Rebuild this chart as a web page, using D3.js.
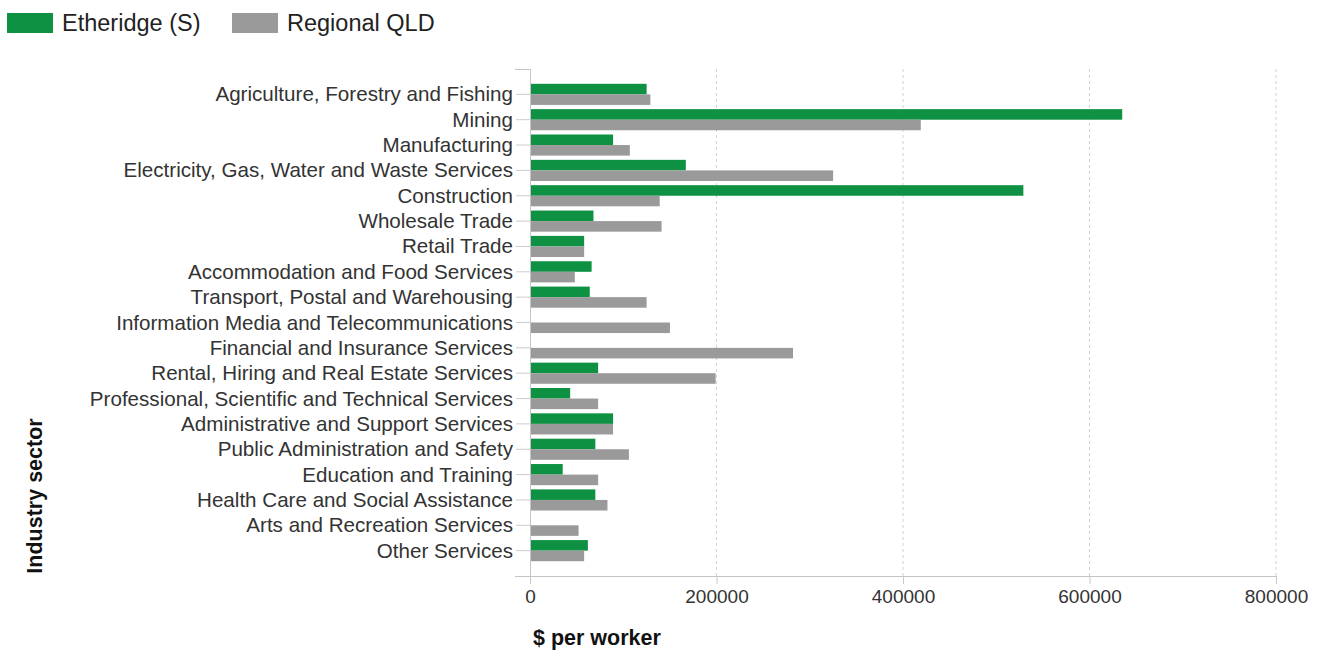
<!DOCTYPE html>
<html>
<head>
<meta charset="utf-8">
<script src="https://cdn.jsdelivr.net/npm/d3@7"></script>
<style>
  html, body { margin: 0; padding: 0; background: #ffffff; }
  svg { display: block; font-family: "Liberation Sans", Arial, sans-serif; }
</style>
</head>
<body>
<script>
// Gross output per worker by industry sector
const sectors = [
  "Agriculture, Forestry and Fishing",
  "Mining",
  "Manufacturing",
  "Electricity, Gas, Water and Waste Services",
  "Construction",
  "Wholesale Trade",
  "Retail Trade",
  "Accommodation and Food Services",
  "Transport, Postal and Warehousing",
  "Information Media and Telecommunications",
  "Financial and Insurance Services",
  "Rental, Hiring and Real Estate Services",
  "Professional, Scientific and Technical Services",
  "Administrative and Support Services",
  "Public Administration and Safety",
  "Education and Training",
  "Health Care and Social Assistance",
  "Arts and Recreation Services",
  "Other Services"
];
const etheridge = [124000, 634000, 88000, 166000, 528000, 67000, 57000, 65000, 63000, 0,
                   0, 72000, 42000, 88000, 69000, 34000, 69000, 0, 61000];
const regionalQLD = [128000, 418000, 106000, 324000, 138000, 140000, 57000, 47000, 124000, 149000,
                     281000, 198000, 72000, 88000, 105000, 72000, 82000, 51000, 57000];
const seriesNames = ["Etheridge (S)", "Regional QLD"];
const xTicks = [0, 200000, 400000, 600000, 800000];

const W = 1319, H = 653;
const colors = ["#0f9144", "#9a9a9a"];

const svg = d3.select("body").append("svg").attr("width", W).attr("height", H);
svg.append("rect").attr("width", W).attr("height", H).attr("fill", "#ffffff");

const plotLeft = 530, plotRight = 1276, plotTop = 69, plotBottom = 576;

const x = d3.scaleLinear().domain([0, 800000]).range([plotLeft, plotRight]);
const y = d3.scaleBand().domain(sectors).range([plotTop, plotBottom]).paddingInner(0).paddingOuter(0.5);
const sub = d3.scaleBand().domain([0, 1]).range([0, y.bandwidth()]).paddingInner(0).paddingOuter(0.2);

// vertical dashed gridlines
svg.append("g").selectAll("line")
  .data(xTicks.slice(1))
  .join("line")
  .attr("x1", d => x(d)).attr("x2", d => x(d))
  .attr("y1", plotTop).attr("y2", plotBottom)
  .attr("stroke", "#d2d2d2")
  .attr("stroke-dasharray", "3,3")
  .attr("stroke-width", 1);

// bars
const rows = sectors.map((s, i) => ({ s, vals: [etheridge[i], regionalQLD[i]] }));
const groups = svg.append("g").selectAll("g")
  .data(rows)
  .join("g")
  .attr("transform", d => `translate(0,${y(d.s)})`);
groups.selectAll("rect")
  .data(d => d.vals.map((v, k) => ({ v, k })))
  .join("rect")
  .attr("x", x(0) + 1)
  .attr("y", d => sub(d.k))
  .attr("width", d => Math.max(0, x(d.v) - x(0)))
  .attr("height", sub.bandwidth())
  .attr("fill", d => colors[d.k]);

// y axis
const yAxis = svg.append("g")
  .attr("transform", `translate(${plotLeft},0)`)
  .call(d3.axisLeft(y).tickSize(14).tickSizeOuter(15).tickPadding(3));
yAxis.select(".domain").attr("stroke", "#c4c4c4");
yAxis.selectAll(".tick line").attr("stroke", "#cccccc");
yAxis.selectAll(".tick text")
  .attr("fill", "#333333")
  .style("font-size", "20.6px")
  .attr("dy", "0.34em");

// x axis
const xAxis = svg.append("g")
  .attr("transform", `translate(0,${plotBottom})`)
  .call(d3.axisBottom(x).tickValues(xTicks).tickFormat(d3.format("d")).tickSize(8).tickSizeOuter(0).tickPadding(6));
xAxis.select(".domain").attr("stroke", "#c4c4c4");
xAxis.selectAll(".tick line").attr("stroke", "#c8c8c8");
xAxis.selectAll(".tick text")
  .attr("fill", "#333333")
  .style("font-size", "19px");

// axis titles
svg.append("text")
  .attr("x", 533).attr("y", 645)
  .attr("font-weight", "bold")
  .attr("font-size", 21.5)
  .attr("fill", "#111111")
  .text("$ per worker");

svg.append("text")
  .attr("transform", "translate(42,496) rotate(-90)")
  .attr("text-anchor", "middle")
  .attr("font-weight", "bold")
  .attr("font-size", 21.5)
  .attr("fill", "#111111")
  .text("Industry sector");

// legend
const legendX = [7, 232];
const legend = svg.append("g").selectAll("g")
  .data(seriesNames)
  .join("g")
  .attr("transform", (d, i) => `translate(${legendX[i]},13)`);
legend.append("rect")
  .attr("width", 46).attr("height", 20)
  .attr("fill", (d, i) => colors[i]);
legend.append("text")
  .attr("x", 55).attr("y", 18)
  .attr("font-size", 23.5)
  .attr("fill", "#222222")
  .text(d => d);
</script>
</body>
</html>
